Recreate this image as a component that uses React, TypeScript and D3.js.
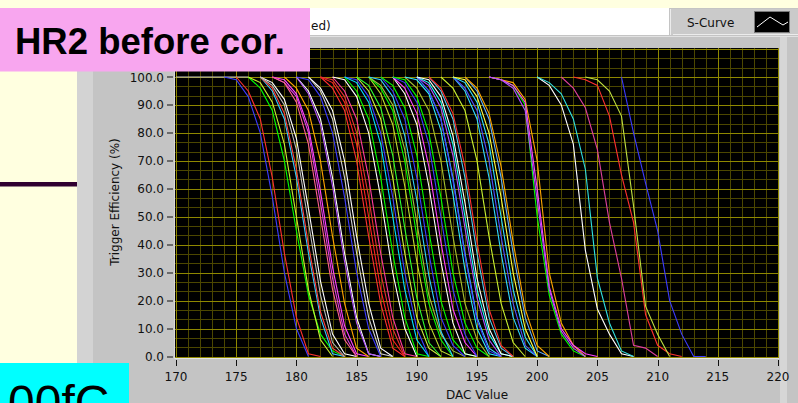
import React from 'react'
import * as d3 from 'd3'

// axis ticks
const xTicks = [170, 175, 180, 185, 190, 195, 200, 205, 210, 215, 220]
const yTicks = [0, 10, 20, 30, 40, 50, 60, 70, 80, 90, 100]

// one S-curve per channel: first DAC value, colour, efficiency (%) every 1 DAC from there
const curveStarts = [
  170, 174, 175, 176, 176, 177, 177, 177, 177, 178, 178, 179, 178, 180, 180, 180,
  181, 181, 182, 182, 183, 182, 183, 184, 184, 184, 185, 185, 186, 186, 186, 187,
  186, 187, 188, 188, 188, 188, 189, 189, 190, 190, 190, 190, 190, 191, 191, 192,
  193, 193, 193, 194, 194, 193, 196, 196, 196, 196, 200, 200, 202, 203, 204, 207,
]

const curveColors = [
  '#c8c8c8', '#3c3cff', '#ff3030', '#00ff00', '#c8f032', '#30c8ff', '#ff4040', '#ffffff',
  '#b8b8b8', '#ff40ff', '#e040e0', '#ffa500', '#ff6090', '#ffffff', '#b050ff', '#3c3cff',
  '#ffffff', '#d0d0d0', '#ff3030', '#ff2020', '#ff3c9c', '#e83030', '#ffffff', '#00ff00',
  '#3c3cff', '#00e0ff', '#d0f040', '#30ff30', '#c0e030', '#00ff00', '#a0c040', '#3c3cff',
  '#30d0ff', '#00ff00', '#ffffff', '#ff40ff', '#3c3cff', '#00ff00', '#a8c030', '#30e8ff',
  '#40d0ff', '#3c3cff', '#b050ff', '#20ffff', '#ffffff', '#50c8f0', '#ff3030', '#c8f032',
  '#30d8ff', '#5050ff', '#30e0ff', '#60b0ff', '#ffa500', '#ffff40', '#00ff00', '#ffa500',
  '#ff40ff', '#b050ff', '#ffffff', '#30e0e0', '#e0409c', '#ff3030', '#c0e040', '#3c3cff',
]

const curveValues = [
  [100, 100, 100, 100, 100, 100, 100],
  [100, 99, 93, 80, 57, 30, 10, 0],
  [100, 95, 85, 64, 37, 14, 1, 0],
  [100, 96, 88, 70, 45, 22, 8, 2, 0],
  [100, 98, 91, 76, 50, 24, 6, 0],
  [100, 95, 85, 64, 37, 14, 1, 0],
  [100, 96, 87, 67, 40, 16, 3, 0],
  [100, 98, 92, 78, 53, 27, 8, 1, 0],
  [100, 97, 90, 74, 48, 22, 5, 0],
  [100, 99, 94, 82, 59, 32, 11, 1, 0],
  [100, 98, 93, 80, 55, 28, 8, 0],
  [100, 96, 88, 70, 43, 19, 3, 0],
  [100, 98, 91, 76, 50, 24, 6, 0],
  [100, 95, 85, 64, 37, 14, 1, 0],
  [100, 94, 83, 61, 34, 12, 1, 0],
  [100, 99, 93, 80, 57, 30, 10, 0],
  [100, 96, 88, 70, 43, 19, 3, 0],
  [100, 95, 85, 64, 37, 14, 1, 0],
  [100, 96, 88, 70, 43, 19, 3, 0],
  [100, 98, 91, 76, 50, 24, 6, 0],
  [100, 95, 85, 64, 37, 14, 1, 0],
  [100, 99, 93, 80, 57, 30, 10, 0],
  [100, 99, 93, 80, 57, 30, 10, 0],
  [100, 95, 85, 64, 37, 14, 1, 0],
  [100, 99, 93, 80, 57, 30, 10, 0],
  [100, 98, 91, 76, 50, 24, 6, 0],
  [100, 95, 85, 64, 37, 14, 3, 0],
  [100, 97, 89, 72, 46, 21, 5, 0],
  [100, 94, 83, 61, 34, 12, 2, 0],
  [100, 96, 88, 70, 43, 19, 6, 0],
  [100, 97, 90, 74, 48, 22, 8, 2, 0],
  [100, 95, 85, 64, 37, 14, 4, 0],
  [100, 99, 93, 79, 56, 29, 9, 0],
  [100, 97, 89, 72, 45, 20, 6, 1, 0],
  [100, 94, 83, 61, 34, 12, 1, 0],
  [100, 96, 87, 68, 41, 17, 5, 0],
  [100, 98, 91, 76, 50, 24, 8, 0],
  [100, 99, 93, 80, 57, 30, 12, 3, 0],
  [100, 96, 88, 70, 43, 19, 6, 0],
  [100, 99, 94, 81, 58, 31, 10, 1, 0],
  [100, 95, 85, 64, 37, 14, 3, 0],
  [100, 95, 85, 63, 36, 13, 2, 0],
  [100, 97, 89, 72, 46, 21, 6, 0],
  [100, 98, 91, 76, 50, 24, 8, 1, 0],
  [100, 99, 93, 79, 55, 28, 10, 1, 0],
  [100, 95, 85, 64, 37, 14, 3, 0],
  [100, 96, 87, 68, 41, 17, 4, 0],
  [100, 96, 88, 70, 43, 19, 5, 0],
  [100, 95, 85, 64, 37, 14, 3, 0],
  [100, 96, 88, 70, 43, 19, 4, 0],
  [100, 98, 91, 76, 50, 24, 7, 0],
  [100, 95, 85, 64, 37, 14, 2, 0],
  [100, 96, 87, 68, 41, 17, 4, 0],
  [100, 99, 93, 80, 57, 30, 10, 0],
  [100, 99, 97, 90, 50, 22, 8, 2, 0],
  [100, 99, 98, 92, 70, 30, 12, 4, 0],
  [100, 99, 97, 91, 60, 25, 10, 4, 1, 0],
  [100, 99, 96, 88, 56, 24, 9, 3, 0],
  [100, 97, 90, 76, 38, 17, 8, 1, 0],
  [100, 98, 94, 85, 67, 28, 12, 2, 0],
  [100, 96, 89, 74, 48, 28, 4, 3, 0],
  [100, 99, 97, 86, 65, 48, 15, 4, 1, 0],
  [100, 99, 95, 86, 54, 18, 8, 0],
  [100, 80, 62, 45, 20, 8, 0, 0],
]

const font = '"DejaVu Sans", sans-serif'

export default function App() {
  const x = d3.scaleLinear().domain([170, 220]).range([176, 778])
  const y = d3.scaleLinear().domain([0, 100]).range([356.5, 77])

  const plotL = 175, plotR = 779, plotT = 48, plotB = 358

  const path = d3.line<[number, number]>()
    .x(d => x(d[0]))
    .y(d => y(d[1]))

  const vGrid = d3.range(170, 221)
  const hGrid = d3.range(34).map(i => i * 10 / 3)
  const snap = (v: number) => Math.round(v) + 0.5

  return (
    <div style={{ position: 'absolute', left: 0, top: 0 }}>
      <svg width={798} height={403} style={{ display: 'block' }}>
        <defs>
          <clipPath id="plotClip">
            <rect x={plotL} y={plotT} width={plotR - plotL} height={plotB - plotT} />
          </clipPath>
        </defs>

        <rect width={798} height={403} fill="#ffffe0" />

        {/* instrument panel */}
        <rect x={77} y={8} width={721} height={395} fill="#c4c4c4" />
        <rect x={77} y={36} width={16} height={367} fill="#d3d3d3" />
        <rect x={780} y={36} width={7} height={367} fill="#d6d6d6" />
        <rect x={200} y={8} width={469} height={27} fill="#ffffff" />
        <line x1={77} x2={798} y1={36.5} y2={36.5} stroke="#e2e2e2" />
        <text x={311} y={29.5} fontFamily={font} fontSize={12} fill="#111">ed)</text>

        {/* legend */}
        <rect x={670} y={9} width={128} height={26} fill="#cacaca" />
        <line x1={670.5} x2={670.5} y1={9} y2={35} stroke="#ececec" />
        <line x1={673} x2={798} y1={34.5} y2={34.5} stroke="#ececec" />
        <text x={687} y={27} fontFamily={font} fontSize={12} fill="#111">S-Curve</text>
        <rect x={754.5} y={11.5} width={35} height={21} fill="#000" stroke="#7a7a7a" />
        <polyline points="757,27 770,17 783,25 788,22" fill="none" stroke="#ffffff" strokeWidth={1} />

        {/* plot area */}
        <rect x={plotL} y={plotT} width={plotR - plotL} height={plotB - plotT} fill="#000" />
        <g clipPath="url(#plotClip)">
          {vGrid.filter(v => v % 5 !== 0).map(v => (
            <line key={'vm' + v} x1={snap(x(v))} x2={snap(x(v))} y1={plotT} y2={plotB} stroke="#4c4700" />
          ))}
          {hGrid.filter((_, i) => i % 3 !== 0).map(v => (
            <line key={'hm' + v} x1={plotL} x2={plotR} y1={snap(y(v))} y2={snap(y(v))} stroke="#4c4700" />
          ))}
          {vGrid.filter(v => v % 5 === 0).map(v => (
            <line key={'vM' + v} x1={snap(x(v))} x2={snap(x(v))} y1={plotT} y2={plotB} stroke="#8f8800" />
          ))}
          {hGrid.filter((_, i) => i % 3 === 0).map(v => (
            <line key={'hM' + v} x1={plotL} x2={plotR} y1={snap(y(v))} y2={snap(y(v))} stroke="#8f8800" />
          ))}
          {curveValues.map((vals, ci) => (
            <path
              key={'c' + ci}
              d={path(vals.map((v, i) => [curveStarts[ci] + i, v] as [number, number])) || ''}
              fill="none"
              stroke={curveColors[ci]}
              strokeWidth={1.1}
            />
          ))}
        </g>
        <line x1={plotL} x2={plotR} y1={358.5} y2={358.5} stroke="#e4e4e4" />
        <line x1={174.5} x2={174.5} y1={plotT} y2={359} stroke="#d8d8d8" />

        {/* y axis */}
        {yTicks.map(t => (
          <g key={'yt' + t}>
            <line x1={167} x2={173} y1={snap(y(t)) - 0.5} y2={snap(y(t)) - 0.5} stroke="#111" />
            <text x={164} y={y(t) + 4.5} textAnchor="end" fontFamily={font} fontSize={12} fill="#111">
              {d3.format('.1f')(t)}
            </text>
          </g>
        ))}
        <text
          transform="translate(119,202) rotate(-90)"
          textAnchor="middle"
          fontFamily={font}
          fontSize={12}
          fill="#111"
        >
          Trigger Efficiency (%)
        </text>

        {/* x axis */}
        {xTicks.map(t => (
          <g key={'xt' + t}>
            <line x1={snap(x(t))} x2={snap(x(t))} y1={360} y2={366} stroke="#111" />
            <text x={x(t)} y={381} textAnchor="middle" fontFamily={font} fontSize={12} fill="#111">
              {t}
            </text>
          </g>
        ))}
        <text x={477} y={399} textAnchor="middle" fontFamily={font} fontSize={12} fill="#111">
          DAC Value
        </text>

        {/* slide decorations */}
        <rect x={0} y={182} width={77} height={4.5} fill="#300030" />
        <rect x={0} y={8} width={310} height={63.5} fill="#f8a6ef" />
        <text x={15} y={54} fontFamily='"Liberation Sans", Arial, sans-serif' fontWeight="bold" fontSize={36.5} fill="#000">
          HR2 before cor.
        </text>
        <rect x={0} y={363} width={129} height={40} fill="#00ffff" />
        <text x={8} y={419} fontFamily='"Liberation Sans", Arial, sans-serif' fontSize={48} fill="#000">
          00fC
        </text>
      </svg>
    </div>
  )
}
